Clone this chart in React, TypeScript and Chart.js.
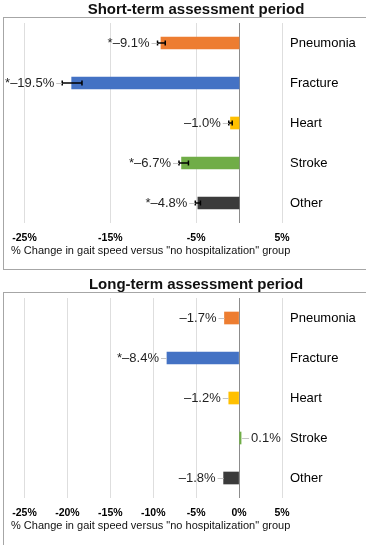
import React, { useEffect, useRef } from 'react';
import { Chart, registerables } from 'chart.js';

Chart.register(...registerables);

// ---------- data ----------
const categories = ['Pneumonia', 'Fracture', 'Heart', 'Stroke', 'Other'];

const shortTermValues = [-9.1, -19.5, -1.0, -6.7, -4.8];
const shortTermLower = [-9.5, -20.6, -1.2, -7.0, -5.1];
const shortTermUpper = [-8.6, -18.3, -0.8, -5.9, -4.5];
const shortTermSignificant = [true, true, false, true, true];
const shortTermTicks = [-25, -15, -5, 5];

const longTermValues = [-1.7, -8.4, -1.2, 0.1, -1.8];
const longTermSignificant = [false, true, false, false, false];
const longTermTicks = [-25, -20, -15, -10, -5, 0, 5];

const axisMin = -27.5;
const axisMax = 5;
const axisTitle = '% Change in gait speed versus "no hospitalization" group';
const shortTermTitle = 'Short-term assessment period';
const longTermTitle = 'Long-term assessment period';

// ---------- styles ----------
const FONT = '"Liberation Sans", Arial, Helvetica, sans-serif';
const barColors = ['#ED7D31', '#4472C4', '#FFC000', '#70AD47', '#3B3B3B'];

type PanelProps = {
  title: string;
  values: number[];
  lower: number[] | null;
  upper: number[] | null;
  significant: boolean[];
  ticks: number[];
  bottomBorder: boolean;
};

function Panel({ title, values, lower, upper, significant, ticks, bottomBorder }: PanelProps) {
  const ref = useRef<HTMLCanvasElement>(null);

  useEffect(() => {
    const canvas = ref.current;
    if (!canvas) return;

    const overlay = {
      id: 'overlay',
      beforeDatasetsDraw(chart: any) {
        const { ctx, chartArea, scales } = chart;
        const x0 = Math.round(scales.x.getPixelForValue(0)) + 0.5;
        ctx.save();
        ctx.strokeStyle = '#8c8c8c';
        ctx.lineWidth = 1;
        ctx.beginPath();
        ctx.moveTo(x0, chartArea.top);
        ctx.lineTo(x0, chartArea.bottom);
        ctx.stroke();
        ctx.restore();
      },
      afterDatasetsDraw(chart: any) {
        const { ctx, scales } = chart;
        const xs = scales.x;
        const meta = chart.getDatasetMeta(0);
        ctx.save();
        values.forEach((v, i) => {
          const bar = meta.data[i];
          const y = bar.y;
          const xv = v < 0 ? xs.getPixelForValue(v) : Math.max(xs.getPixelForValue(v), bar.x);
          let extreme = xv;
          // error bars
          if (lower && upper) {
            const xl = xs.getPixelForValue(lower[i]);
            const xh = xs.getPixelForValue(upper[i]);
            ctx.strokeStyle = '#000';
            ctx.lineWidth = 1.5;
            ctx.beginPath();
            ctx.moveTo(xl, y);
            ctx.lineTo(xh, y);
            ctx.moveTo(xl, y - 2.5);
            ctx.lineTo(xl, y + 2.5);
            ctx.moveTo(xh, y - 2.5);
            ctx.lineTo(xh, y + 2.5);
            ctx.stroke();
            extreme = v < 0 ? Math.min(xl, xh, xv) : Math.max(xl, xh, xv);
          }
          const txt =
            (significant[i] ? '*' : '') + (v < 0 ? '\u2013' : '') + Math.abs(v).toFixed(1) + '%';
          ctx.font = `13px ${FONT}`;
          ctx.fillStyle = '#1f1f1f';
          ctx.textBaseline = 'middle';
          const gap = 8;
          let lineA: number, lineB: number;
          if (v < 0) {
            const right = extreme - gap;
            ctx.textAlign = 'right';
            ctx.fillText(txt, right, y + 0.5);
            lineA = right + 2;
            lineB = extreme;
          } else {
            const left = extreme + gap + 2;
            ctx.textAlign = 'left';
            ctx.fillText(txt, left, y + 0.5);
            lineA = extreme + 1;
            lineB = left - 2;
          }
          if (lineB - lineA > 1) {
            ctx.strokeStyle = '#c4c4c4';
            ctx.lineWidth = 1;
            ctx.beginPath();
            ctx.moveTo(lineA, Math.round(y) + 0.5);
            ctx.lineTo(lineB, Math.round(y) + 0.5);
            ctx.stroke();
          }
        });
        ctx.restore();
      },
      afterDraw(chart: any) {
        const { ctx } = chart;
        ctx.save();
        // title
        ctx.fillStyle = '#111';
        ctx.font = `bold 15px ${FONT}`;
        ctx.textAlign = 'center';
        ctx.textBaseline = 'alphabetic';
        ctx.fillText(title, 196, 14);
        // axis title
        ctx.font = `11px ${FONT}`;
        ctx.textAlign = 'left';
        ctx.fillStyle = '#111';
        ctx.fillText(axisTitle, 11, 254);
        // frame
        ctx.strokeStyle = '#a6a6a6';
        ctx.lineWidth = 1;
        ctx.beginPath();
        ctx.moveTo(3, 17.5);
        ctx.lineTo(366, 17.5);
        ctx.moveTo(3.5, 17.5);
        ctx.lineTo(3.5, bottomBorder ? 269.5 : 270);
        if (bottomBorder) {
          ctx.moveTo(3, 269.5);
          ctx.lineTo(366, 269.5);
        }
        ctx.stroke();
        ctx.restore();
      },
    };

    const chart = new Chart(canvas, {
      type: 'bar',
      data: {
        labels: categories,
        datasets: [
          {
            data: values,
            backgroundColor: barColors,
            borderWidth: 0,
            barThickness: 12,
            minBarLength: 2,
          },
        ],
      },
      options: {
        indexAxis: 'y',
        responsive: false,
        animation: false,
        devicePixelRatio: 1,
        layout: { padding: { left: 3, top: 23, right: 0, bottom: 0 } },
        plugins: {
          legend: { display: false },
          tooltip: { enabled: false },
          title: { display: false },
        },
        scales: {
          x: {
            type: 'linear',
            min: axisMin,
            max: axisMax,
            afterBuildTicks: (s: any) => {
              s.ticks = ticks.map((v) => ({ value: v }));
            },
            afterFit: (s: any) => {
              s.height = 52;
            },
            grid: { color: '#dedede', lineWidth: 1, drawTicks: false },
            border: { display: false },
            ticks: {
              callback: (v: any) => v + '%',
              font: { family: FONT, size: 10.5, weight: 'bold' },
              color: '#000',
              padding: 9,
              maxRotation: 0,
              autoSkip: false,
            },
          },
          y: {
            type: 'category',
            position: 'right',
            afterFit: (s: any) => {
              s.width = 90;
            },
            grid: { display: false, drawTicks: false },
            border: { display: false },
            ticks: {
              font: { family: FONT, size: 13 },
              color: '#000',
              padding: 8,
            },
          },
        },
      },
      plugins: [overlay],
    } as any);

    return () => chart.destroy();
  }, []);

  return <canvas ref={ref} width={372} height={275} style={{ display: 'block', width: 372, height: 275 }} />;
}

export default function App() {
  return (
    <div style={{ position: 'absolute', left: 0, top: 0, width: 372, height: 550, background: '#fff' }}>
      <Panel
        title={shortTermTitle}
        values={shortTermValues}
        lower={shortTermLower}
        upper={shortTermUpper}
        significant={shortTermSignificant}
        ticks={shortTermTicks}
        bottomBorder={true}
      />
      <Panel
        title={longTermTitle}
        values={longTermValues}
        lower={null}
        upper={null}
        significant={longTermSignificant}
        ticks={longTermTicks}
        bottomBorder={false}
      />
    </div>
  );
}
